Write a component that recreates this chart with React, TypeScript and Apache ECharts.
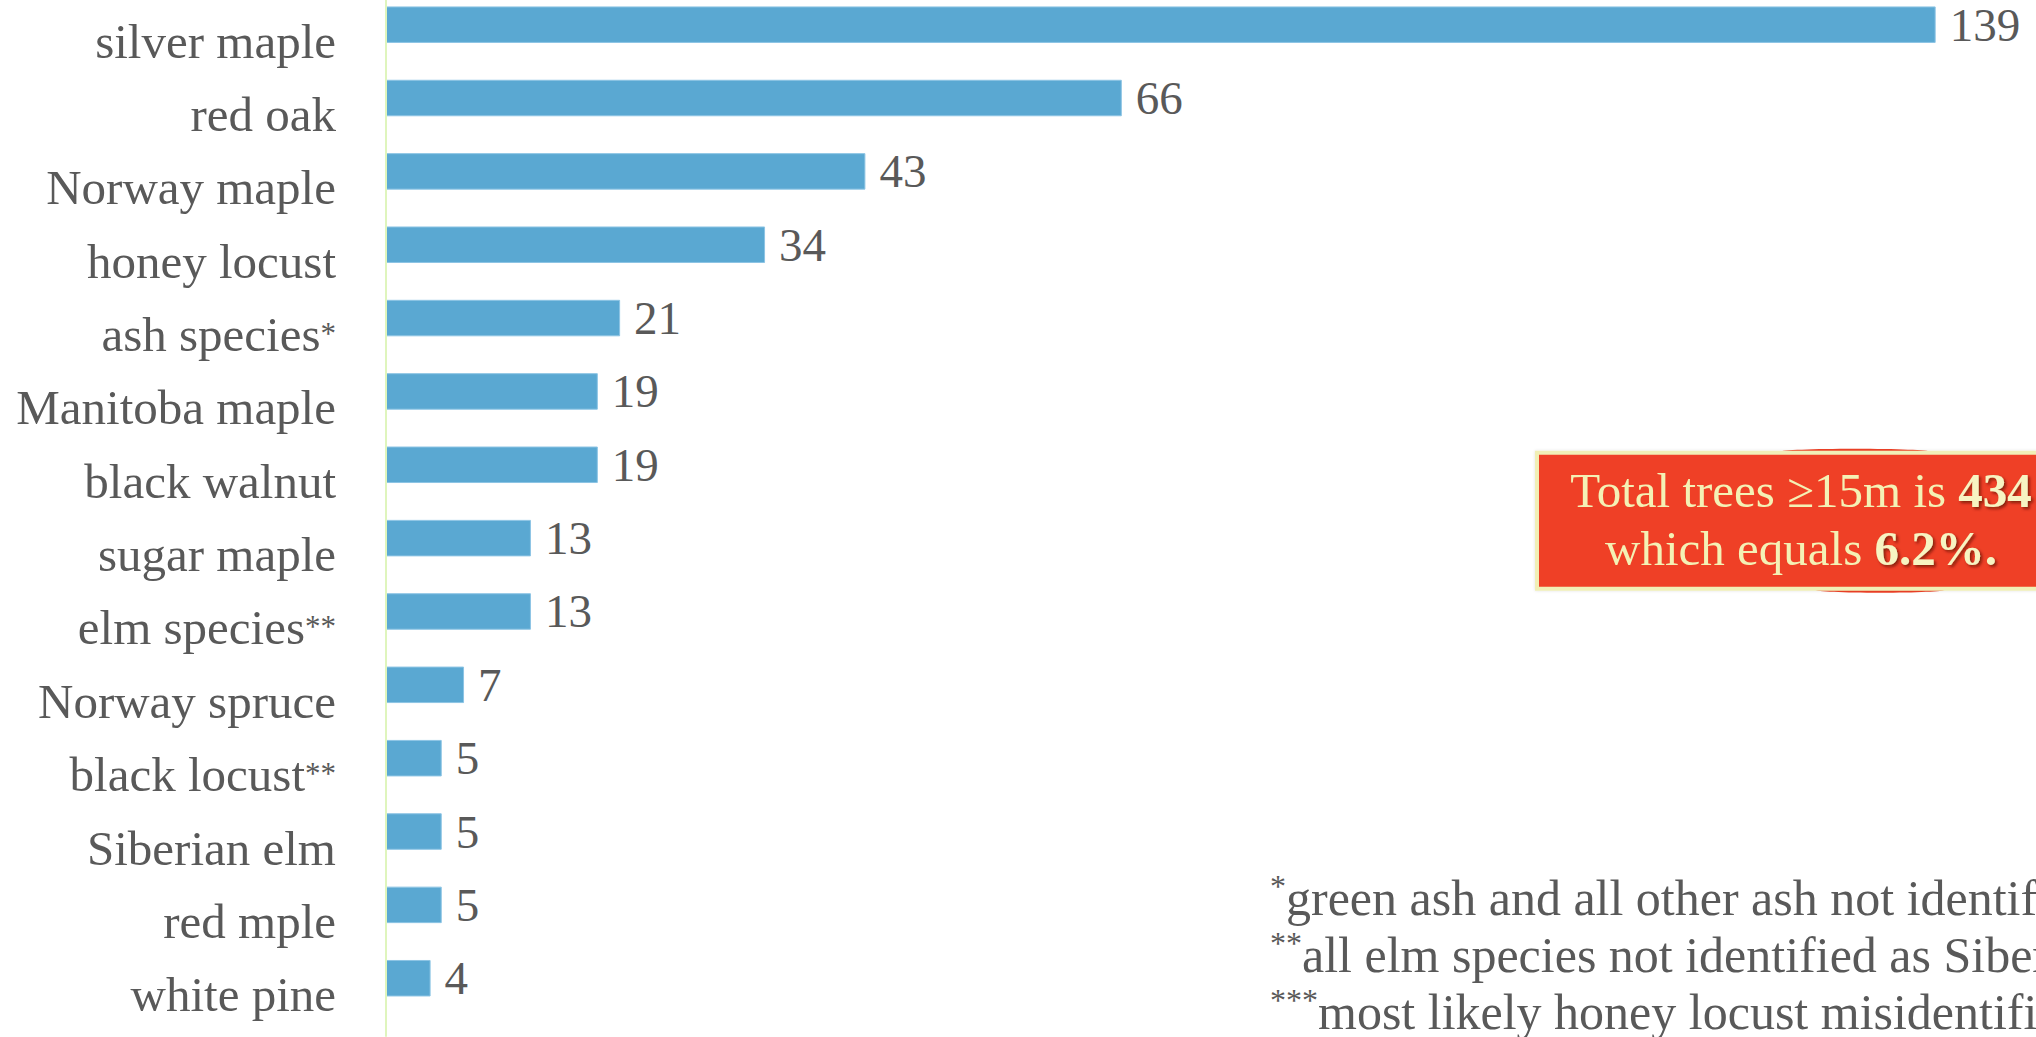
import React, { useEffect, useRef } from "react";
import * as echarts from "echarts";

const categories = [
  "silver maple",
  "red oak",
  "Norway maple",
  "honey locust",
  "ash species*",
  "Manitoba maple",
  "black walnut",
  "sugar maple",
  "elm species**",
  "Norway spruce",
  "black locust**",
  "Siberian elm",
  "red mple",
  "white pine",
];
const treeCounts = [139, 66, 43, 34, 21, 19, 19, 13, 13, 7, 5, 5, 5, 4];
const calloutPlain = ["Total trees ≥15m is ", "which equals "];
const calloutBold = ["434", "6.2%."];
const footnotes = [
  "*green ash and all other ash not identified as white ash",
  "**all elm species not identified as Siberian elm",
  "***most likely honey locust misidentified",
];

const SERIF = '"Liberation Serif", "DejaVu Serif", serif';
const GRAY = "#595959";
const SHIFT = 11.7; // chart div is shifted up so the first band starts above the page

function richLabel(v: string): string {
  const m = v.match(/^([^*]*)(\*+)$/);
  if (m) return `{m|${m[1]}}{s|${m[2]}}`;
  return `{m|${v}}`;
}

function richFootnote(v: string): string {
  const m = v.match(/^(\*+)(.*)$/);
  if (m) return `{s|${m[1]}}{m|${m[2]}}`;
  return `{m|${v}}`;
}

export default function App() {
  const ref = useRef<HTMLDivElement>(null);
  useEffect(() => {
    document.body.style.margin = "0";
    document.body.style.overflow = "hidden";
    if (!ref.current) return;
    const chart = echarts.init(ref.current, undefined, { renderer: "svg" });
    const calloutText = calloutPlain
      .map((p, i) => `{n|${p}}{b|${calloutBold[i]}}`)
      .join("\n");
    chart.setOption({
      animation: false,
      backgroundColor: "#ffffff",
      grid: { left: 386, top: 0, width: 1653.6, height: 1026.9 },
      xAxis: { type: "value", min: 0, max: 148, show: false },
      yAxis: {
        type: "category",
        data: categories,
        inverse: true,
        axisLine: { show: false },
        axisTick: { show: false },
        splitLine: { show: false },
        axisLabel: {
          interval: 0,
          margin: 50,
          fontFamily: SERIF,
          fontSize: 49,
          color: GRAY,
          verticalAlign: "top",
          lineHeight: 33,
          formatter: (v: string) => richLabel(v),
          rich: {
            m: { fontFamily: SERIF, fontSize: 49, color: GRAY, lineHeight: 33 },
            s: {
              fontFamily: SERIF,
              fontSize: 31,
              color: GRAY,
              lineHeight: 16,
              verticalAlign: "top",
            },
          },
        },
      },
      series: [
        {
          type: "bar",
          data: treeCounts,
          barWidth: 36.5,
          itemStyle: { color: "#5aa8d2", borderColor: "#8cc4e4", borderWidth: 1 },
          label: {
            show: true,
            position: "right",
            distance: 14,
            fontFamily: SERIF,
            fontSize: 47,
            color: GRAY,
          },
        },
      ],
      graphic: [
        {
          type: "line",
          shape: { x1: 386, y1: 0, x2: 386, y2: 1037 + SHIFT },
          style: { stroke: "#dff5bd", lineWidth: 2 },
          z: 10,
        },
        {
          type: "ellipse",
          shape: { cx: 1855, cy: 452 + SHIFT, rx: 75, ry: 3 },
          style: { fill: "#ef4126" },
          z: 10,
        },
        {
          type: "ellipse",
          shape: { cx: 1880, cy: 590 + SHIFT, rx: 65, ry: 3 },
          style: { fill: "#ef4126" },
          z: 10,
        },
        {
          type: "rect",
          shape: { x: 1537, y: 453 + SHIFT, width: 560, height: 136 },
          style: {
            fill: "#ef4126",
            stroke: "#f1efb6",
            lineWidth: 4,
            shadowColor: "rgba(0,0,0,0.12)",
            shadowBlur: 3,
          },
          z: 11,
        },
        {
          type: "text",
          x: 1801,
          y: 461.8 + SHIFT,
          z: 12,
          style: {
            text: calloutText,
            align: "center",
            verticalAlign: "top",
            textAlign: "center",
            textVerticalAlign: "top",
            rich: {
              n: {
                fontFamily: SERIF,
                fontSize: 49,
                lineHeight: 58,
                fill: "#f4f1b5",
                color: "#f4f1b5",
              },
              b: {
                fontFamily: SERIF,
                fontSize: 49,
                fontWeight: "bold",
                lineHeight: 58,
                fill: "#f7f4c2",
                color: "#f7f4c2",
                textShadowColor: "rgba(90,20,0,0.7)",
                textShadowBlur: 3,
                textShadowOffsetX: 2,
                textShadowOffsetY: 2,
              },
            },
          },
        },
        {
          type: "text",
          x: 1270,
          y: 870 + SHIFT,
          z: 12,
          style: {
            text: footnotes.map(richFootnote).join("\n"),
            align: "left",
            verticalAlign: "top",
            textAlign: "left",
            textVerticalAlign: "top",
            rich: {
              m: {
                fontFamily: SERIF,
                fontSize: 50,
                lineHeight: 57,
                fill: GRAY,
                color: GRAY,
              },
              s: {
                fontFamily: SERIF,
                fontSize: 32,
                lineHeight: 48,
                verticalAlign: "top",
                fill: GRAY,
                color: GRAY,
              },
            },
          },
        },
      ],
    });
    return () => chart.dispose();
  }, []);
  return (
    <div
      ref={ref}
      style={{
        position: "absolute",
        left: 0,
        top: -SHIFT,
        width: 2036,
        height: 1037 + SHIFT,
      }}
    />
  );
}
